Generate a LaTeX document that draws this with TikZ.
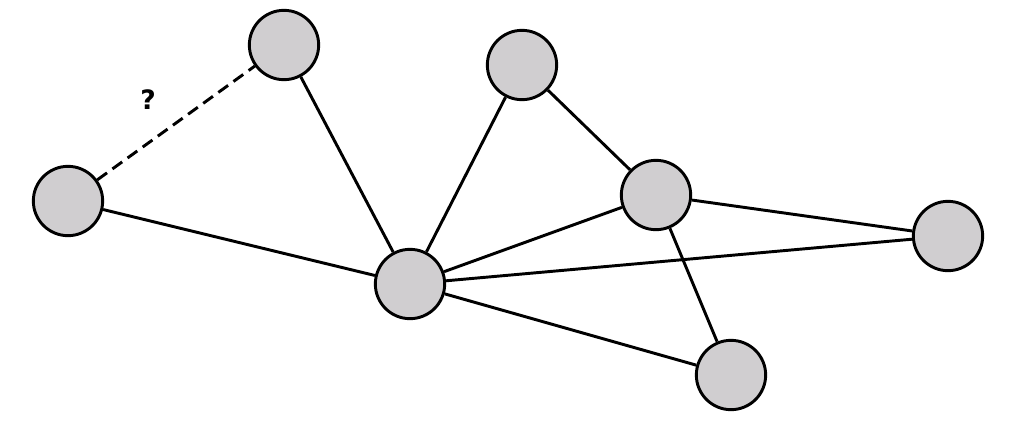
\documentclass[tikz,border=0pt]{standalone}
\usepackage{fontspec}
\setmainfont{DejaVu Sans}
\definecolor{nodegray}{RGB}{208,206,208}
\begin{document}
\begin{tikzpicture}[x=0.75pt,y=-0.75pt,
  vtx/.style={circle,draw,line width=2.2pt,fill=nodegray,minimum size=52pt,inner sep=0pt},
  edge/.style={line width=2.2pt}]
\useasboundingbox (0,0) rectangle (1024,425);
\node[vtx] (A) at (68,201) {};
\node[vtx] (B) at (284,45) {};
\node[vtx] (C) at (522,65) {};
\node[vtx] (D) at (656,195) {};
\node[vtx] (E) at (948,236) {};
\node[vtx] (F) at (410,284) {};
\node[vtx] (G) at (731,375) {};
\begin{scope}[on background layer/.style={}]
\end{scope}
\draw[edge,dashed,dash pattern=on 9pt off 5pt] (A) -- (B);
\draw[edge] (A) -- (F);
\draw[edge] (B) -- (F);
\draw[edge] (C) -- (F);
\draw[edge] (C) -- (D);
\draw[edge] (D) -- (F);
\draw[edge] (E) -- (F);
\draw[edge] (D) -- (E);
\draw[edge] (D) -- (G);
\draw[edge] (F) -- (G);
\node[font=\bfseries\fontsize{20}{24}\selectfont] (q) at (148,100) {?};
\end{tikzpicture}
\end{document}
